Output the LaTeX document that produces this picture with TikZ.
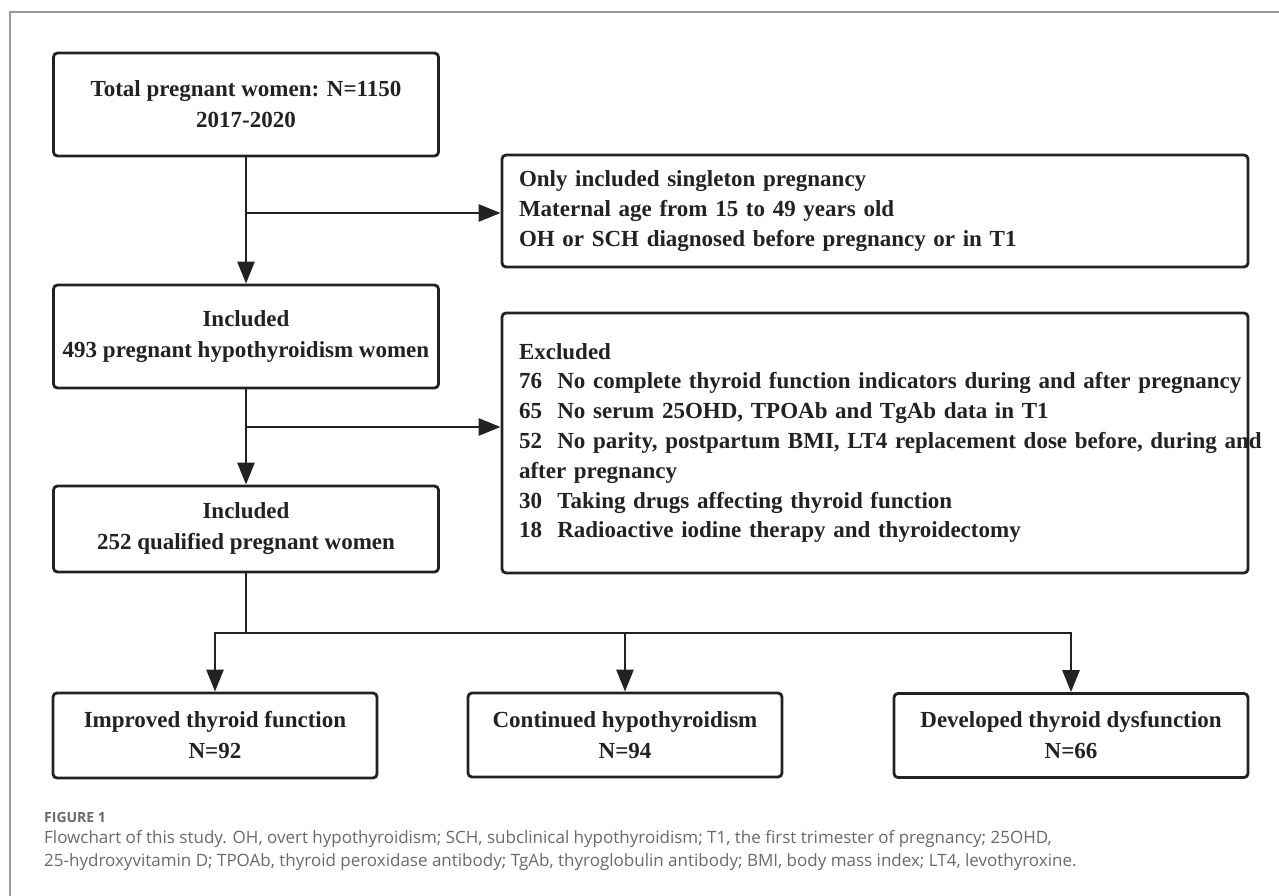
\documentclass[tikz,border=0pt]{standalone}
\usepackage{fontspec}
\setmainfont{Liberation Serif}
\newfontfamily\capfont{Open Sans}
\usetikzlibrary{arrows.meta,calc}
\definecolor{ink}{HTML}{222222}
\definecolor{capgray}{HTML}{6A6A6A}
\definecolor{framegray}{HTML}{9A9A9A}
\tikzset{
  box/.style={draw=ink, line width=2.8pt, rounded corners=4pt, fill=white, inner sep=0pt,
    font=\fontsize{23}{31}\selectfont\bfseries, text=ink, align=center},
  sidebox/.style={box, align=left, text width=712pt, minimum width=746pt,
    font=\fontsize{23}{29.8}\selectfont\bfseries},
  arr/.style={draw=ink, line width=2.8pt, -{Triangle[length=22pt,width=17pt]}},
  ln/.style={draw=ink, line width=2.8pt, line cap=rect},
  captitle/.style={anchor=west, inner sep=0pt, text=capgray, font=\capfont\fontsize{14}{17}\selectfont\bfseries},
  captext/.style={anchor=west, inner sep=0pt, text=capgray, font=\capfont\fontsize{17}{23}\selectfont, align=left},
}
\begin{document}
\begin{tikzpicture}[x=1pt,y=-1pt]
\useasboundingbox (0,0) rectangle (1279,896);
\fill[white] (0,0) rectangle (1279,896);
% frame
\draw[framegray, line width=1.3pt] (10,896) -- (10,12) -- (1279,12);

% boxes
\node[box, minimum width=385pt, minimum height=103pt] (total) at (246,104.5)
  {Total pregnant women: N=1150\\2017-2020};
\node[box, minimum width=385pt, minimum height=103pt] (inc1) at (246,336.5)
  {Included\\493 pregnant hypothyroidism women};
\node[box, minimum width=385pt, minimum height=86pt] (inc2) at (246,529)
  {Included\\252 qualified pregnant women};
\node[sidebox, minimum height=112pt] (only) at (875,211)
  {\mbox{Only included singleton pregnancy}\\
   \mbox{Maternal age from 15 to 49 years old}\\
   \mbox{OH or SCH diagnosed before pregnancy or in T1}};
\node[sidebox, minimum height=260pt] (excl) at (875,443)
  {\mbox{Excluded}\\
   \mbox{76\ \ No complete thyroid function indicators during and after pregnancy}\\
   \mbox{65\ \ No serum 25OHD, TPOAb and TgAb data in T1}\\
   \mbox{52\ \ No parity, postpartum BMI, LT4 replacement dose before, during and}\\
   \mbox{after pregnancy}\\
   \mbox{30\ \ Taking drugs affecting thyroid function}\\
   \mbox{18\ \ Radioactive iodine therapy and thyroidectomy}};
\node[box, minimum width=324pt, minimum height=85pt] (impr) at (215,735.5)
  {Improved thyroid function\\N=92};
\node[box, minimum width=314pt, minimum height=84pt] (cont) at (625,735)
  {Continued hypothyroidism\\N=94};
\node[box, minimum width=354pt, minimum height=84pt] (dev) at (1071,735.5)
  {Developed thyroid dysfunction\\N=66};

% connectors
\coordinate (j1) at (246,213);
\coordinate (j2) at (246,427);
\coordinate (hb) at (246,633);
\draw[arr] (total.south) -- (inc1.north);
\draw[arr] (j1) -- (j1 -| only.west);
\draw[arr] (inc1.south) -- (inc2.north);
\draw[arr] (j2) -- (j2 -| excl.west);
\draw[ln] (inc2.south) -- (hb);
\draw[ln] (hb -| impr.north) -- (hb -| dev.north);
\draw[arr] (hb -| impr.north) -- (impr.north);
\draw[arr] (hb -| cont.north) -- (cont.north);
\draw[arr] (hb -| dev.north) -- (dev.north);

% caption
\node[captitle] (figlabel) at (44,817) {FIGURE 1};
\node[captext] (cap1) at (44,839) {Flowchart of this study. OH, overt hypothyroidism; SCH, subclinical hypothyroidism; T1, the first trimester of pregnancy; 25OHD,};
\node[captext] (cap2) at (44,862) {25-hydroxyvitamin D; TPOAb, thyroid peroxidase antibody; TgAb, thyroglobulin antibody; BMI, body mass index; LT4, levothyroxine.};
\end{tikzpicture}
\end{document}
